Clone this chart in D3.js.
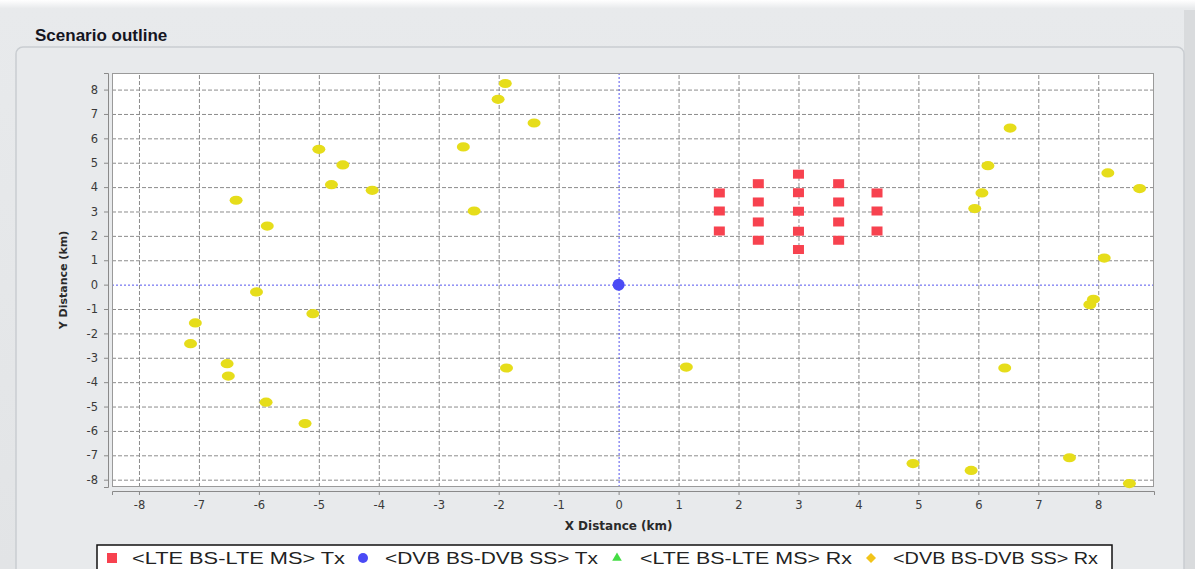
<!DOCTYPE html>
<html><head><meta charset="utf-8">
<script src="https://cdn.jsdelivr.net/npm/d3@7"></script>
<style>body{margin:0;background:#e6e8ea;overflow:hidden} svg{display:block}</style>
</head><body><svg id="c" width="1195" height="569"></svg>
<script>
// ---- data ----
const chartTitle = "Scenario outline";
const xAxisTitle = "X Distance (km)";
const yAxisTitle = "Y Distance (km)";
const xTickValues = [-8,-7,-6,-5,-4,-3,-2,-1,0,1,2,3,4,5,6,7,8];
const yTickValues = [-8,-7,-6,-5,-4,-3,-2,-1,0,1,2,3,4,5,6,7,8];
const seriesNames = ["<LTE BS-LTE MS> Tx", "<DVB BS-DVB SS> Tx", "<LTE BS-LTE MS> Rx", "<DVB BS-DVB SS> Rx"];

const lteTxX = [1.68,1.68,1.68, 2.33,2.33,2.33,2.33, 3.0,3.0,3.0,3.0,3.0, 3.67,3.67,3.67,3.67, 4.31,4.31,4.31];
const lteTxY = [3.76,3.02,2.20, 4.14,3.39,2.57,1.82, 4.53,3.77,3.01,2.19,1.44, 4.14,3.39,2.57,1.82, 3.76,3.02,2.20];

const dvbTxX = [0];
const dvbTxY = [0];

const lteRxX = [];
const lteRxY = [];

const dvbRxX = [-1.89,-2.01,-1.41,-2.59,-2.41, -5.0,-4.6,-4.79,-4.11,-6.38,-5.86,-6.04,-5.10,-7.06,-7.14,-6.53,-6.51,-5.88,-5.23,
                -1.87,1.13, 6.53,6.16,6.06,5.94,8.16,8.69, 8.10,7.92,7.86,6.44,4.91,5.88,7.52,8.52];
const dvbRxY = [8.25,7.60,6.63,5.65,3.02, 5.55,4.91,4.10,3.87,3.46,2.40,-0.30,-1.19,-1.57,-2.42,-3.24,-3.75,-4.82,-5.70,
                -3.42,-3.38, 6.42,4.88,3.76,3.12,4.58,3.94, 1.09,-0.60,-0.82,-3.42,-7.34,-7.62,-7.10,-8.16];

// ---- drawing ----
const svg = d3.select("#c");
const W = 1195, H = 569;
const plot = {left:112, right:1154, top:73, bottom:487};

const defs = svg.append("defs");
const bg = defs.append("linearGradient").attr("id","bgGrad").attr("x1",0).attr("y1",0).attr("x2",0).attr("y2",1);
bg.append("stop").attr("offset","0%").attr("stop-color","#ffffff");
bg.append("stop").attr("offset","1.5%").attr("stop-color","#e8eaec");
bg.append("stop").attr("offset","100%").attr("stop-color","#e2e4e6");

svg.append("rect").attr("width",W).attr("height",H).attr("fill","url(#bgGrad)");
svg.append("rect").attr("x",1184).attr("y",10).attr("width",11).attr("height",H).attr("fill","#d9dbdd");
// panel
svg.append("rect").attr("x",16).attr("y",47).attr("width",1168).attr("height",560).attr("rx",7)
  .attr("fill","#e8eaec").attr("stroke","#c9cdd1").attr("stroke-width",1.5);

svg.append("text").attr("x",35).attr("y",41).text(chartTitle)
  .attr("font-family","Liberation Sans, Arial, sans-serif").attr("font-weight","bold")
  .attr("font-size",17).attr("fill","#15151f");

const x = d3.scaleLinear().domain([-8.45, 8.93]).range([plot.left, plot.right]);
const y = d3.scaleLinear().domain([-8.30, 8.68]).range([plot.bottom, plot.top]);

// plot background
svg.append("rect").attr("x",plot.left).attr("y",plot.top)
  .attr("width",plot.right-plot.left).attr("height",plot.bottom-plot.top)
  .attr("fill","#ffffff");

// gridlines
const gridX = svg.append("g").attr("transform",`translate(0,${plot.bottom})`)
  .call(d3.axisBottom(x).tickValues(xTickValues.filter(d=>d!==0)).tickSize(-(plot.bottom-plot.top)).tickFormat(""));
const gridY = svg.append("g").attr("transform",`translate(${plot.left},0)`)
  .call(d3.axisLeft(y).tickValues(yTickValues.filter(d=>d!==0)).tickSize(-(plot.right-plot.left)).tickFormat(""));
[gridX, gridY].forEach(g=>{
  g.select(".domain").remove();
  g.selectAll("line").attr("stroke","#8c8c8c").attr("stroke-width",1).attr("stroke-dasharray","4,2");
});
// zero lines
const zx = svg.append("g").attr("transform",`translate(0,${plot.bottom})`)
  .call(d3.axisBottom(x).tickValues([0]).tickSize(-(plot.bottom-plot.top)).tickFormat(""));
const zy = svg.append("g").attr("transform",`translate(${plot.left},0)`)
  .call(d3.axisLeft(y).tickValues([0]).tickSize(-(plot.right-plot.left)).tickFormat(""));
[zx, zy].forEach(g=>{
  g.select(".domain").remove();
  g.selectAll("line").attr("stroke","#5555ee").attr("stroke-width",1).attr("stroke-dasharray","2,2");
});

// plot border
svg.append("rect").attr("x",plot.left+0.5).attr("y",plot.top+0.5)
  .attr("width",plot.right-plot.left-1).attr("height",plot.bottom-plot.top-1)
  .attr("fill","none").attr("stroke","#9a9a9a").attr("stroke-width",1);

// axes
const fmt = d => String(d);
const xAxis = svg.append("g").attr("transform",`translate(0,${plot.bottom+4})`)
  .call(d3.axisBottom(x).tickValues(xTickValues).tickSize(4).tickPadding(6).tickFormat(fmt));
const yAxis = svg.append("g").attr("transform",`translate(${plot.left-4},0)`)
  .call(d3.axisLeft(y).tickValues(yTickValues).tickSize(4).tickPadding(6).tickFormat(fmt));
[xAxis, yAxis].forEach(g=>{
  g.select(".domain").attr("stroke","#8a8a8a");
  g.selectAll(".tick line").attr("stroke","#8a8a8a");
  g.selectAll(".tick text").attr("font-family","DejaVu Sans, Verdana, sans-serif")
    .attr("font-size",11.5).attr("fill","#3a3a3a");
});

svg.append("text").attr("x",x(0)).attr("y",530).attr("text-anchor","middle").text(xAxisTitle)
  .attr("font-family","DejaVu Sans, Verdana, sans-serif").attr("font-weight","bold")
  .attr("font-size",12).attr("fill","#2a2a2a");
svg.append("text").attr("transform",`translate(67,${(plot.top+plot.bottom)/2}) rotate(-90)`)
  .attr("text-anchor","middle").text(yAxisTitle)
  .attr("font-family","DejaVu Sans, Verdana, sans-serif").attr("font-weight","bold")
  .attr("font-size",11).attr("fill","#2a2a2a");

// marks
const colors = ["#f7424f", "#4a4af5", "#44dd44", "#e6dd1a"];
const marks = svg.append("g");

const dvbRx = d3.zip(dvbRxX, dvbRxY);
marks.selectAll("ellipse.rx").data(dvbRx).join("ellipse").attr("class","rx")
  .attr("cx",d=>x(d[0])).attr("cy",d=>y(d[1])).attr("rx",6.5).attr("ry",4.6)
  .attr("fill",colors[3]);

const lteRx = d3.zip(lteRxX, lteRxY);
marks.selectAll("path.lrx").data(lteRx).join("path").attr("class","lrx")
  .attr("d",d3.symbol(d3.symbolTriangle,50)).attr("transform",d=>`translate(${x(d[0])},${y(d[1])})`)
  .attr("fill",colors[2]);

const lteTx = d3.zip(lteTxX, lteTxY);
marks.selectAll("rect.ltx").data(lteTx).join("rect").attr("class","ltx")
  .attr("x",d=>x(d[0])-5.5).attr("y",d=>y(d[1])-4.5).attr("width",11).attr("height",9)
  .attr("fill",colors[0]);

const dvbTx = d3.zip(dvbTxX, dvbTxY);
marks.selectAll("circle.dtx").data(dvbTx).join("circle").attr("class","dtx")
  .attr("cx",d=>x(d[0])).attr("cy",d=>y(d[1])).attr("r",6)
  .attr("fill",colors[1]);

// legend
svg.append("rect").attr("x",97).attr("y",545).attr("width",1015).attr("height",40)
  .attr("fill","#ffffff").attr("stroke","#111").attr("stroke-width",1.5);
const legMarkX = [112, 363, 617, 871];
const legTextX = [132, 385, 640, 893];
const legTextW = [213, 213, 212, 205];
const ly = 558;
seriesNames.forEach((name,i)=>{
  const g = svg.append("g");
  if (i===0) g.append("rect").attr("x",legMarkX[i]-5).attr("y",ly-5).attr("width",10).attr("height",10).attr("fill",colors[0]);
  if (i===1) g.append("circle").attr("cx",legMarkX[i]).attr("cy",ly).attr("r",5).attr("fill",colors[1]);
  if (i===2) g.append("path").attr("d",d3.symbol(d3.symbolTriangle,40)).attr("transform",`translate(${legMarkX[i]},${ly})`).attr("fill",colors[2]);
  if (i===3) g.append("path").attr("d","M-5,0 L0,-5 L5,0 L0,5 Z").attr("transform",`translate(${legMarkX[i]},${ly})`).attr("fill","#f2c41a");
  g.append("text").attr("x",legTextX[i]).attr("y",ly+6).text(name)
    .attr("font-family","Liberation Sans, Arial, sans-serif").attr("font-size",17)
    .attr("fill","#222").attr("textLength",legTextW[i]).attr("lengthAdjust","spacingAndGlyphs");
});
</script></body></html>
